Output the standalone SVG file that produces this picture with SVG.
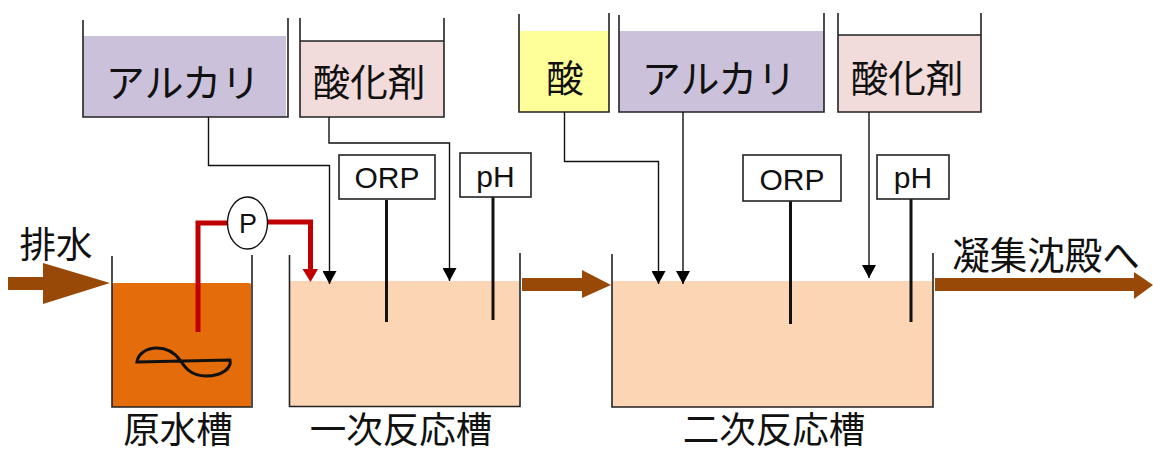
<svg xmlns="http://www.w3.org/2000/svg" width="1153" height="451" viewBox="0 0 1153 451">
<style>
text{font-family:"Noto Sans CJK JP","Liberation Sans",sans-serif;fill:#111;text-anchor:middle;font-weight:400}
.a{font-size:39px}
.l{font-size:37.500px}
.t{font-family:"Liberation Sans","Noto Sans CJK JP",sans-serif;font-size:36.500px}
.s{font-family:"Liberation Sans",sans-serif;font-size:30px}
.v{fill:none;stroke:#222;stroke-width:1.6}
.b{fill:#fff;stroke:#222;stroke-width:1.6}
.c{fill:none;stroke:#111;stroke-width:1.4}
.p{fill:none;stroke:#111;stroke-width:3}
.r{fill:none;stroke:#c00000;stroke-width:5}
.f{fill:#984807}
</style>
<defs>
<marker id="k" markerUnits="userSpaceOnUse" markerWidth="14" markerHeight="14" refX="13" refY="7" orient="auto"><path d="M0 0L13 7L0 14Z" fill="#000"/></marker>
</defs>
<g id="tank-alkali1"><rect x="83" y="36" width="203" height="81" fill="#ccc1da"/><path class="v" d="M83 20V117H288V18"/><text class="a" x="183" y="97">アルカリ</text></g>
<g id="tank-oxidant1"><rect x="300" y="41" width="144" height="76" fill="#f2dcdb"/><path class="v" d="M300 18V117H444V18M300 41H444"/><text class="l" x="369" y="96">酸化剤</text></g>
<g id="tank-acid"><rect x="519" y="31" width="90" height="81" fill="#ffff99"/><path class="v" d="M519 14V112H609V13"/><text class="l" x="565" y="92">酸</text></g>
<g id="tank-alkali2"><rect x="619" y="31" width="205" height="81" fill="#ccc1da"/><path class="v" d="M619 15V112H824V13"/><text class="a" x="719" y="93">アルカリ</text></g>
<g id="tank-oxidant2"><rect x="838" y="35" width="143" height="77" fill="#f2dcdb"/><path class="v" d="M838 13V112H981V13M838 35H981"/><text class="l" x="907" y="92">酸化剤</text></g>
<g id="tank-raw"><rect x="112" y="283" width="139" height="124" rx="2" fill="#e46c0a"/><path class="v" d="M112 256V407H252V255"/><text class="t" x="178" y="443">原水槽</text></g>
<g id="tank-first"><rect x="290" y="281" width="229" height="126" fill="#fcd5b5"/><path class="v" d="M289.500 255V406.500H520V253"/><text class="t" x="401" y="443">一次反応槽</text></g>
<g id="tank-second"><rect x="612" y="281" width="321" height="126" fill="#fcd5b5"/><path class="v" d="M612 254V407H933V253"/><text class="t" x="774" y="443">二次反応槽</text></g>
<g id="connectors">
<path class="c" marker-end="url(#k)" d="M208.500 117V165.500H329.500V284"/>
<path class="c" marker-end="url(#k)" d="M329 117V143H449.500V281"/>
<path class="c" marker-end="url(#k)" d="M564.500 112V161.500H658.500V284"/>
<path class="c" marker-end="url(#k)" d="M683 112V284"/>
<path class="c" marker-end="url(#k)" d="M869 112V278"/>
<path class="p" d="M386.500 200V322M493 197V320M790.500 201V324M911 199V322"/>
<path class="r" d="M198 332V223H228M267 222H310.500V270"/>
<path d="M302.500 269H318L310.500 282Z" fill="#c00000"/>
<path class="f" d="M8 277H43V263L110 283L43 304V290H8Z"/>
<path class="f" d="M522 278H582V270L611 285L582 298V291H522Z"/>
<path class="f" d="M935 278H1134V272L1153 285L1134 299V291H935Z"/>
</g>
<g id="pump"><ellipse cx="247.500" cy="223" rx="20" ry="26" fill="#fff" stroke="#111" stroke-width="1.400"/><text x="248" y="233" style="font-family:'Liberation Sans',sans-serif;font-size:27px">P</text></g>
<g id="orp1"><rect class="b" x="339" y="155" width="96" height="44"/><text class="s" x="387" y="188">ORP</text></g>
<g id="ph1"><rect class="b" x="460" y="153" width="71" height="44"/><text class="s" x="495.500" y="187">pH</text></g>
<g id="orp2"><rect class="b" x="743" y="155" width="98" height="46"/><text class="s" x="792" y="190">ORP</text></g>
<g id="ph2"><rect class="b" x="877" y="155" width="72" height="44"/><text class="s" x="913" y="188">pH</text></g>
<g id="mixer"><path class="p" d="M137 362L230 360C232 368 222 376 206 376C190 376 184 366 180 360C174 352 166 348 157 348C146 348 138 354 137 362Z"/></g>
<g id="labels"><text x="56" y="258" style="font-size:36.500px">排水</text><text x="1046" y="269" style="font-size:37.500px">凝集沈殿へ</text></g>
</svg>
